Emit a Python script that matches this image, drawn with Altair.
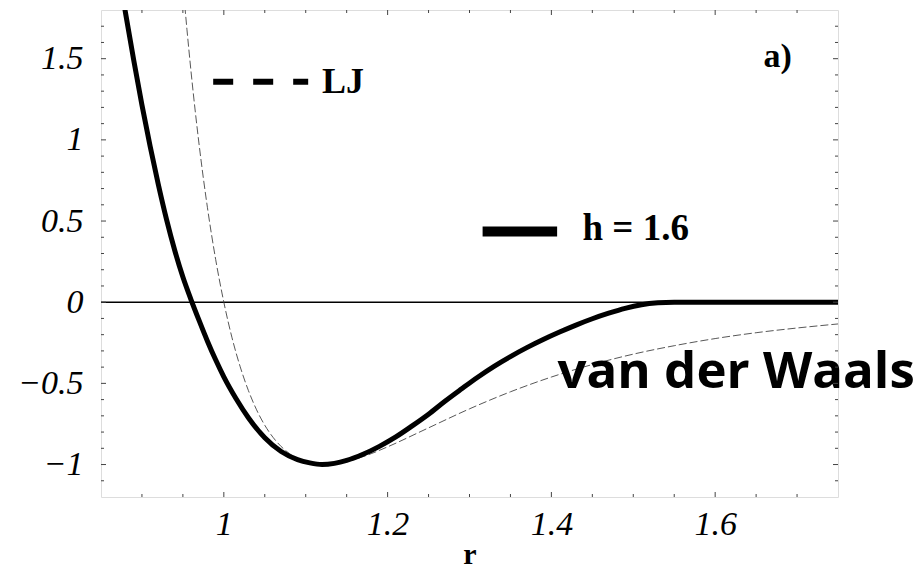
import altair as alt
import pandas as pd

# ---- data ----
r_solid = [0.875, 0.88, 0.89, 0.90, 0.91, 0.92, 0.93, 0.94, 0.95, 0.96, 0.97, 0.98, 0.99,
           1.00, 1.015, 1.03, 1.05, 1.07, 1.09, 1.105, 1.12, 1.135, 1.15, 1.17, 1.19, 1.21,
           1.23, 1.25, 1.27, 1.29, 1.31, 1.33, 1.35, 1.37, 1.39, 1.41, 1.43, 1.45, 1.47,
           1.49, 1.51, 1.53, 1.55, 1.60, 1.75]
v_solid = [1.93, 1.78, 1.49, 1.215, 0.96, 0.725, 0.51, 0.32, 0.155, 0.015, -0.115, -0.24, -0.355,
           -0.46, -0.595, -0.712, -0.835, -0.92, -0.97, -0.99, -1.0, -0.993, -0.975, -0.937,
           -0.888, -0.83, -0.762, -0.69, -0.61, -0.535, -0.462, -0.395, -0.335, -0.28,
           -0.23, -0.184, -0.141, -0.102, -0.068, -0.038, -0.016, -0.004, 0.0, 0.0, 0.0]

r_lj = [0.95, 0.955, 0.96, 0.97, 0.98, 0.99, 1.00, 1.01, 1.02, 1.03, 1.04, 1.05, 1.06, 1.07,
        1.08, 1.09, 1.10, 1.12, 1.14, 1.16, 1.18, 1.20, 1.25, 1.30, 1.35, 1.40, 1.45, 1.50,
        1.55, 1.60, 1.65, 1.70, 1.75]
v_lj = [1.961, 1.678, 1.418, 0.963, 0.582, 0.264, 0.0, -0.219, -0.398, -0.544, -0.663, -0.758,
        -0.832, -0.889, -0.932, -0.963, -0.983, -1.0, -0.992, -0.968, -0.933, -0.891, -0.774,
        -0.657, -0.552, -0.461, -0.384, -0.320, -0.268, -0.224, -0.188, -0.159, -0.134]

x_domain = [0.85, 1.75]
y_domain = [-1.2, 1.8]
x_labels = [1.0, 1.2, 1.4, 1.6]
y_labels = [-1.0, -0.5, 0.0, 0.5, 1.0, 1.5]
x_minor = [0.9, 0.95, 1.05, 1.1, 1.15, 1.25, 1.3, 1.35, 1.45, 1.5, 1.55, 1.65, 1.7]
y_minor = [-1.1, -0.9, -0.8, -0.7, -0.6, -0.4, -0.3, -0.2, -0.1, 0.1, 0.2, 0.3, 0.4,
           0.6, 0.7, 0.8, 0.9, 1.1, 1.2, 1.3, 1.4, 1.6, 1.7]

# legend / annotations (data coordinates)
leg_lj = {"r": [0.987], "r2": [1.103], "v": [1.358]}
leg_h = {"r": [1.316], "r2": [1.407], "v": [0.435]}
serif_texts = {"t": ["LJ", "h = 1.6", "a)"], "r": [1.120, 1.438, 1.659], "v": [1.291, 0.385, 1.451],
               "size": [36, 37, 34]}
vdw_text = {"t": ["van der Waals"], "r": [1.4075], "v": [-0.526]}

W, H = 737, 487
SERIF = "Liberation Serif"

xs = alt.Scale(domain=x_domain, nice=False, zero=False)
ys = alt.Scale(domain=y_domain, nice=False, zero=False)

x_axis = alt.Axis(values=x_labels, format="~g", ticks=False, domain=False, grid=False,
                  labelFont=SERIF, labelFontStyle="italic", labelFontSize=34, labelColor="black",
                  labelPadding=10, titleFont=SERIF, titleFontWeight="bold", titleFontSize=30,
                  titleColor="black", titlePadding=-2)
y_axis = alt.Axis(values=y_labels, format="~g", ticks=False, domain=False, grid=False,
                  labelFont=SERIF, labelFontStyle="italic", labelFontSize=34, labelColor="black",
                  labelPadding=18)


def X(field):
    return alt.X(field, scale=xs, axis=x_axis, title="r")


def Y(field):
    return alt.Y(field, scale=ys, axis=y_axis, title=None)


solid_df = pd.DataFrame({"r": r_solid, "v": v_solid})
lj_df = pd.DataFrame({"r": r_lj, "v": v_lj})

zero = alt.Chart(pd.DataFrame({"v": [0.0]})).mark_rule(color="black", strokeWidth=1.6).encode(
    y=Y("v:Q"))

lj_line = alt.Chart(lj_df).mark_line(color="#444", strokeWidth=0.9, strokeDash=[8, 3],
                                     interpolate="monotone", clip=True).encode(
    x=X("r:Q"), y=Y("v:Q"))

solid_line = alt.Chart(solid_df).mark_line(color="black", strokeWidth=5,
                                           interpolate="monotone", clip=True).encode(
    x=X("r:Q"), y=Y("v:Q"))

leg1 = alt.Chart(pd.DataFrame(leg_lj)).mark_rule(color="black", strokeWidth=6, strokeDash=[20, 20],
                                                 strokeCap="butt").encode(
    x=X("r:Q"), x2="r2:Q", y=Y("v:Q"))
leg2 = alt.Chart(pd.DataFrame(leg_h)).mark_rule(color="black", strokeWidth=10,
                                                strokeCap="butt").encode(
    x=X("r:Q"), x2="r2:Q", y=Y("v:Q"))

txt = alt.Chart(pd.DataFrame(serif_texts)).mark_text(font=SERIF, fontWeight="bold", align="left",
                                                     baseline="alphabetic", color="black").encode(
    x=X("r:Q"), y=Y("v:Q"), text="t:N",
    size=alt.Size("size:Q", scale=None, legend=None))

vdw = alt.Chart(pd.DataFrame(vdw_text)).mark_text(font="Open Sans", fontWeight="bold", fontSize=51,
                                                  align="left", baseline="alphabetic",
                                                  color="black").encode(
    x=X("r:Q"), y=Y("v:Q"), text="t:N")

TC = "#444"


def xticks(vals, length):
    d = pd.DataFrame({"r": vals})
    b = alt.Chart(d).mark_rule(color=TC, strokeWidth=1).encode(x=X("r:Q"))
    return [b.encode(y=alt.value(H), y2=alt.value(H - length)),
            b.encode(y=alt.value(0), y2=alt.value(length))]


def yticks(vals, length):
    d = pd.DataFrame({"v": vals})
    b = alt.Chart(d).mark_rule(color=TC, strokeWidth=1).encode(y=Y("v:Q"))
    return [b.encode(x=alt.value(0), x2=alt.value(length)),
            b.encode(x=alt.value(W), x2=alt.value(W - length))]


ticks = xticks(x_minor, 3) + xticks(x_labels, 5) + yticks(y_minor, 3) + yticks(y_labels, 5)

chart = alt.layer(zero, lj_line, solid_line, leg1, leg2, txt, vdw, *ticks).properties(
    width=W, height=H,
    autosize=alt.AutoSizeParams(type="none"),
    padding={"left": 93, "top": 2, "right": 76, "bottom": 71},
).configure_view(stroke="#444", strokeWidth=1).configure(background="white")

chart.save("out.html", embed_options={"renderer": "svg", "actions": False})
